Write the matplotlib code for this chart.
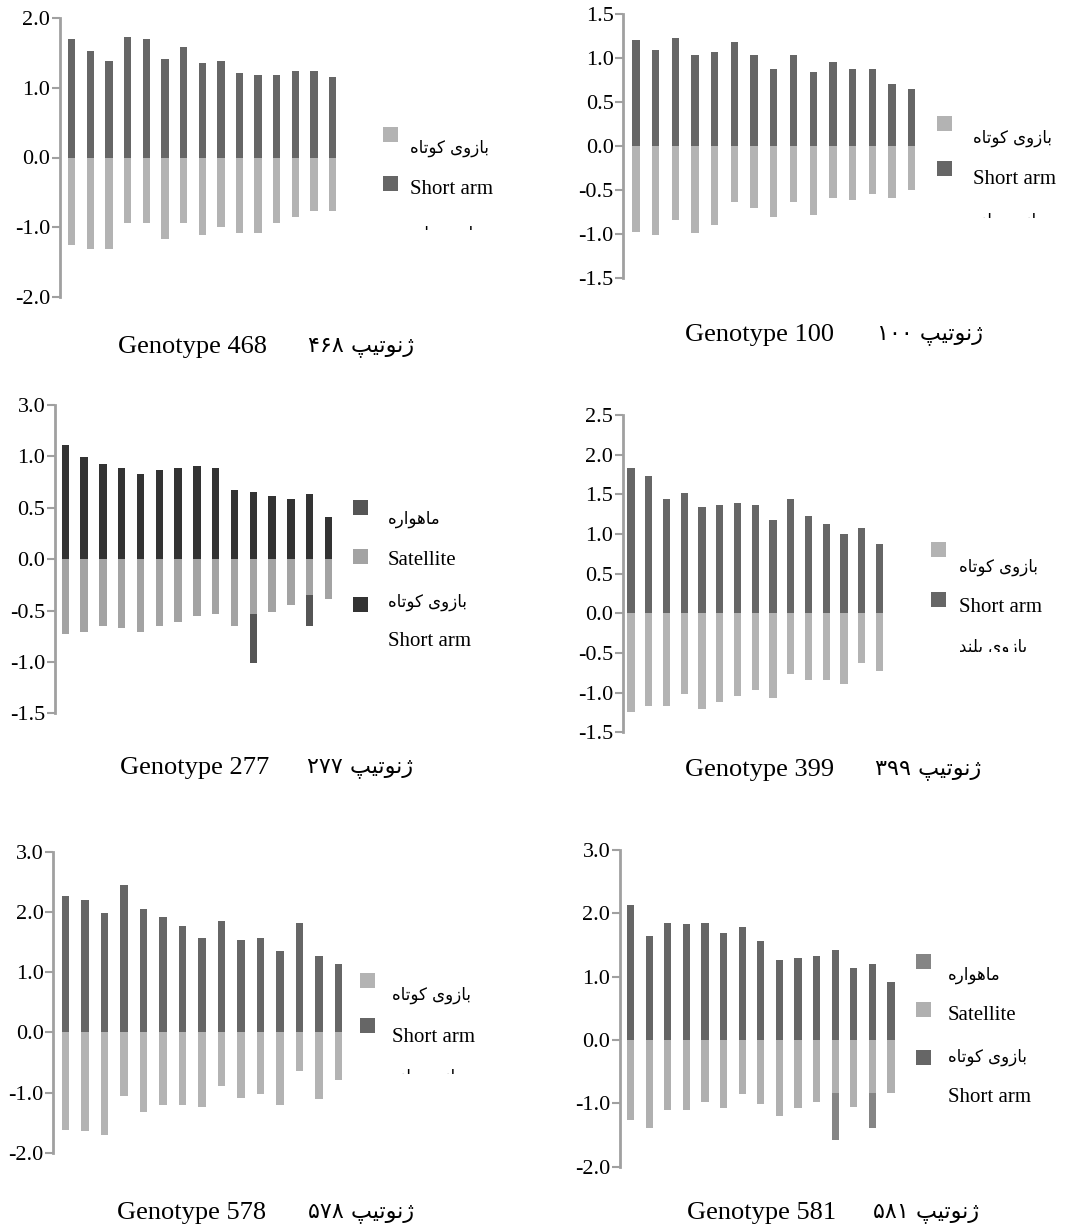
import numpy as np
import matplotlib.pyplot as plt
from matplotlib.patches import Rectangle
from matplotlib.transforms import Bbox, TransformedBbox

W, H = 1084, 1232

# Persian labels, written as presentation-form glyphs in visual order
# (matplotlib does not shape Arabic script by itself)
FA_SHORT = "\uFEE9\uFE8E\uFE97\uFEEE\uFEDB \uFEEF\uFEED\uFEAF\uFE8E\uFE91"   # bazuye kutah
FA_LONG = "\uFEAA\uFEE8\uFEE0\uFE91 \uFEEF\uFEED\uFEAF\uFE8E\uFE91"          # bazuye boland
FA_SAT = "\uFEE9\uFEAD\uFE8D\uFEEE\uFEEB\uFE8E\uFEE3"                        # mahvareh
FA_GENO = "\uFB57\uFEF4\uFE97\uFEEE\uFEE7\uFB8A"                              # genotip
FA_DIGITS = str.maketrans("0123456789", "\u06F0\u06F1\u06F2\u06F3\u06F4\u06F5\u06F6\u06F7\u06F8\u06F9")

# ---- data (arm lengths per chromosome) ----
g468_short = [1.70, 1.53, 1.38, 1.73, 1.70, 1.41, 1.59, 1.36, 1.38, 1.21, 1.18, 1.18, 1.24, 1.24, 1.15]
g468_long = [1.26, 1.31, 1.31, 0.94, 0.94, 1.17, 0.94, 1.11, 1.00, 1.08, 1.08, 0.94, 0.85, 0.77, 0.77]

g100_short = [1.20, 1.09, 1.23, 1.03, 1.07, 1.18, 1.03, 0.88, 1.03, 0.84, 0.95, 0.88, 0.88, 0.71, 0.65]
g100_long = [0.97, 1.01, 0.84, 0.99, 0.89, 0.63, 0.70, 0.80, 0.63, 0.78, 0.59, 0.61, 0.54, 0.59, 0.50]

g277_short = [1.11, 0.99, 0.93, 0.89, 0.83, 0.87, 0.89, 0.91, 0.89, 0.67, 0.65, 0.61, 0.59, 0.63, 0.41]
g277_long = [0.73, 0.71, 0.65, 0.67, 0.71, 0.65, 0.61, 0.55, 0.53, 0.65, 0.53, 0.51, 0.45, 0.35, 0.39]
g277_sat = [0, 0, 0, 0, 0, 0, 0, 0, 0, 0, 0.48, 0, 0, 0.30, 0]

g399_short = [1.83, 1.73, 1.44, 1.52, 1.34, 1.36, 1.39, 1.36, 1.18, 1.44, 1.23, 1.13, 1.00, 1.08, 0.87]
g399_long = [1.25, 1.17, 1.17, 1.02, 1.20, 1.12, 1.04, 0.97, 1.07, 0.76, 0.84, 0.84, 0.89, 0.63, 0.73]

g578_short = [2.26, 2.20, 1.98, 2.45, 2.04, 1.92, 1.76, 1.57, 1.85, 1.54, 1.57, 1.35, 1.82, 1.26, 1.14]
g578_long = [1.62, 1.64, 1.71, 1.05, 1.33, 1.21, 1.21, 1.24, 0.90, 1.09, 1.02, 1.21, 0.65, 1.11, 0.80]

g581_short = [2.13, 1.64, 1.85, 1.83, 1.85, 1.69, 1.79, 1.57, 1.26, 1.29, 1.33, 1.42, 1.14, 1.20, 0.92]
g581_long = [1.26, 1.39, 1.11, 1.11, 0.98, 1.08, 0.86, 1.01, 1.20, 1.08, 0.98, 0.83, 1.05, 0.83, 0.83]
g581_sat = [0, 0, 0, 0, 0, 0, 0, 0, 0, 0, 0, 0.75, 0, 0.56, 0]

fig = plt.figure(figsize=(W / 100, H / 100), dpi=100)
fig.patch.set_facecolor('white')

SERIF = ['Liberation Serif', 'DejaVu Serif']
ARAB = ['DejaVu Sans']
AXIS_GREY = '#a0a0a0'


def fx(x):
    return x / W


def fy(y):
    return 1 - y / H


def panel(name, short, long_, sat, geo, colors, ticks, ticklabels, markers, labels, clip_long=None):
    spine_x, ytop, ybot, ymin, ymax, step, off = geo
    n = len(short)
    right = n - 1 + 0.6
    width_px = (off + right) * step
    ax = fig.add_axes([fx(spine_x), fy(ybot), width_px / W, (ybot - ytop) / H])
    x = np.arange(n)
    bw = 7.3 / step
    ax.bar(x, short, width=bw, color=colors[0], linewidth=0)
    ax.bar(x, -np.array(long_), width=bw, color=colors[1], linewidth=0)
    if sat is not None:
        ax.bar(x, -np.array(sat), bottom=-np.array(long_), width=bw, color=colors[2], linewidth=0)
    ax.set_xlim(-off, right)
    ax.set_ylim(ymin, ymax)
    for s in ['top', 'right', 'bottom']:
        ax.spines[s].set_visible(False)
    ax.spines['left'].set_color(AXIS_GREY)
    ax.spines['left'].set_linewidth(2)
    ax.set_xticks([])
    ax.set_yticks(ticks)
    ax.set_yticklabels(ticklabels, family=SERIF, fontsize=16)
    ax.tick_params(axis='y', direction='out', length=6, width=1.5, color=AXIS_GREY, pad=1)
    ax.patch.set_alpha(0)

    # hand-placed legend (keys and texts are offset like in the original)
    mx = markers[0]
    for my, c in markers[1]:
        fig.patches.append(Rectangle((fx(mx), fy(my + 7.5)), 15 / W, 15 / H,
                                     transform=fig.transFigure, color=c, lw=0))
    lx = labels[0]
    for ly, txt in labels[1]:
        fam = SERIF if txt.isascii() else ARAB
        size = 15 if txt.isascii() else 12
        fig.text(fx(lx), fy(ly), txt, family=fam, fontsize=size, ha='left', va='center')
    if clip_long is not None:
        ly, cut = clip_long
        t = fig.text(fx(lx), fy(ly), FA_LONG, family=ARAB, fontsize=12, ha='left', va='center')
        t.set_clip_box(TransformedBbox(Bbox([[0, fy(cut)], [1, 1]]), fig.transFigure))
        t.set_clip_on(True)

    # caption below the panel
    tx, ty, fa_x = geo_title[name]
    fig.text(fx(tx), fy(ty), 'Genotype ' + name, family=SERIF, fontsize=19, ha='left', va='center')
    fig.text(fx(fa_x), fy(ty), name.translate(FA_DIGITS) + ' ' + FA_GENO, family=ARAB,
             fontsize=16, ha='left', va='center')
    return ax


geo_title = {
    '468': (118, 347, 308),
    '100': (685, 335, 877),
    '277': (120, 768, 307),
    '399': (685, 770, 875),
    '578': (117, 1213, 308),
    '581': (687, 1213, 873),
}

# 468
panel('468', g468_short, g468_long, None,
      (60, 18.3, 296.7, -2, 2, 18.64, 0.63), ['#666666', '#b3b3b3'],
      [2, 1, 0, -1, -2], ['2.0', '1.0', '0.0', '-1.0', '-2.0'],
      (383, [(134, '#b3b3b3'), (183, '#666666')]),
      (410, [(148, FA_SHORT), (190, 'Short arm')]), clip_long=(234, 230))

# 100
panel('100', g100_short, g100_long, None,
      (623.3, 14, 278.3, -1.5, 1.5, 19.7, 0.64), ['#666666', '#b3b3b3'],
      [1.5, 1, 0.5, 0, -0.5, -1, -1.5], ['1.5', '1.0', '0.5', '0.0', '-0.5', '-1.0', '-1.5'],
      (937, [(123, '#b3b3b3'), (168, '#666666')]),
      (973, [(138, FA_SHORT), (180, 'Short arm')]), clip_long=(221, 218))

# 277 (top tick is labelled 3.0 in the original)
panel('277', g277_short, g277_long, g277_sat,
      (55, 405, 713.3, -1.5, 1.5, 18.8, 0.55), ['#333333', '#a3a3a3', '#555555'],
      [1.5, 1, 0.5, 0, -0.5, -1, -1.5], ['3.0', '1.0', '0.5', '0.0', '-0.5', '-1.0', '-1.5'],
      (353, [(507, '#555555'), (556, '#a3a3a3'), (605, '#333333')]),
      (388, [(519, FA_SAT), (561, 'Satellite'), (602, FA_SHORT), (642, 'Short arm')]))

# 399
panel('399', g399_short, g399_long, None,
      (622.7, 415, 732.3, -1.5, 2.5, 17.74, 0.47), ['#666666', '#b3b3b3'],
      [2.5, 2, 1.5, 1, 0.5, 0, -0.5, -1, -1.5],
      ['2.5', '2.0', '1.5', '1.0', '0.5', '0.0', '-0.5', '-1.0', '-1.5'],
      (931, [(549, '#b3b3b3'), (599, '#666666')]),
      (959, [(567, FA_SHORT), (608, 'Short arm')]), clip_long=(647, 652))

# 578
panel('578', g578_short, g578_long, None,
      (53.3, 851.7, 1152.7, -2, 3, 19.5, 0.62), ['#666666', '#b3b3b3'],
      [3, 2, 1, 0, -1, -2], ['3.0', '2.0', '1.0', '0.0', '-1.0', '-2.0'],
      (360, [(980, '#b3b3b3'), (1025, '#666666')]),
      (392, [(995, FA_SHORT), (1038, 'Short arm')]), clip_long=(1077, 1074))

# 581
panel('581', g581_short, g581_long, g581_sat,
      (620, 850, 1166.7, -2, 3, 18.6, 0.57), ['#666666', '#b0b0b0', '#858585'],
      [3, 2, 1, 0, -1, -2], ['3.0', '2.0', '1.0', '0.0', '-1.0', '-2.0'],
      (916, [(961, '#858585'), (1009, '#b0b0b0'), (1057, '#666666')]),
      (948, [(975, FA_SAT), (1016, 'Satellite'), (1057, FA_SHORT), (1097, 'Short arm')]))

fig.savefig('out.png', dpi=100)
